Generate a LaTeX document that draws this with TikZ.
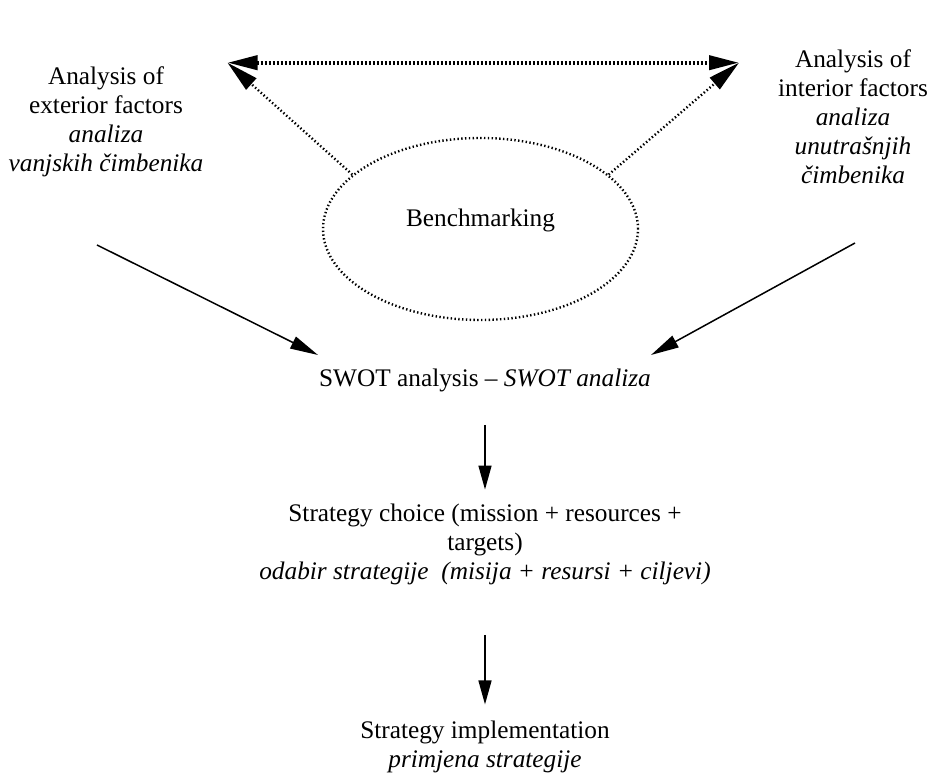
\documentclass[tikz,border=0pt]{standalone}
\usepackage{fontspec}
\setmainfont{Liberation Serif}
\usetikzlibrary{shapes.geometric,arrows.meta}
\begin{document}
\begin{tikzpicture}[x=0.5pt,y=-0.5pt]
		\tikzstyle{every node}+=[inner sep=0pt, font=\fontsize{12.65}{14.5}\selectfont]
		\tikzstyle{txt}=[align=center, anchor=base]
		\tikzstyle{bench}=[ellipse, draw, line width=1.2pt, dash pattern=on 0.7pt off 1.2pt,
			minimum width=157.5pt, minimum height=91pt, text height=8.6pt, text depth=10.6pt]
		\tikzstyle{flow}=[line width=0.75pt, -{Triangle[length=14pt,width=6.5pt]}]
		\tikzstyle{flowdown}=[line width=0.75pt, -{Triangle[length=12pt,width=6.5pt]}]
		\tikzstyle{dotsthin}=[line width=1.2pt, dash pattern=on 0.7pt off 1.2pt, -{Triangle[length=16pt,width=7.5pt]}]
		\tikzstyle{dotsthick}=[line width=2pt, dash pattern=on 1.2pt off 0.8pt, {Triangle[length=15pt,width=7pt]}-{Triangle[length=15pt,width=7pt]}]
		\useasboundingbox (0,0) rectangle (932,774);
		% texts (placed at the baseline of their last line)
		\node [txt] (ext) at (106,172) {Analysis of\\exterior factors\\\textit{analiza}\\\textit{vanjskih čimbenika}};
		\node [txt] (int) at (853,184) {Analysis of\\interior factors\\\textit{analiza}\\\textit{unutrašnjih}\\\textit{čimbenika}};
		\node [bench] (bmk) at (480.5,229) {Benchmarking};
		\node [txt] (swot) at (485,387) {SWOT analysis -- \textit{SWOT analiza}};
		\node [txt] (choice) at (485,580) {Strategy choice (mission + resources +\\targets)\\\textit{odabir strategije\ \ (misija + resursi + ciljevi)}};
		\node [txt] (impl) at (485,768) {Strategy implementation\\\textit{primjena strategije}};
		% arrow ends
		\coordinate (extTip) at (227.5,62.7);
		\coordinate (intTip) at (739,62.7);
		\coordinate (extFoot) at (97,245);
		\coordinate (intFoot) at (855,243);
		\coordinate (swotL) at (318,355);
		\coordinate (swotR) at (651,355);
		% connectors
		\draw [dotsthick] (extTip) -- (intTip);
		\draw [dotsthin] (bmk.157) -- (extTip);
		\draw [dotsthin] (bmk.23) -- (intTip);
		\draw [flow] (extFoot) -- (swotL);
		\draw [flow] (intFoot) -- (swotR);
		\draw [flowdown] ([yshift=-16pt]swot.south) -- ([yshift=7.25pt]choice.north);
		\draw [flowdown] ([yshift=-24.5pt]choice.south) -- ([yshift=8.3pt]impl.north);
	\end{tikzpicture}
\end{document}
